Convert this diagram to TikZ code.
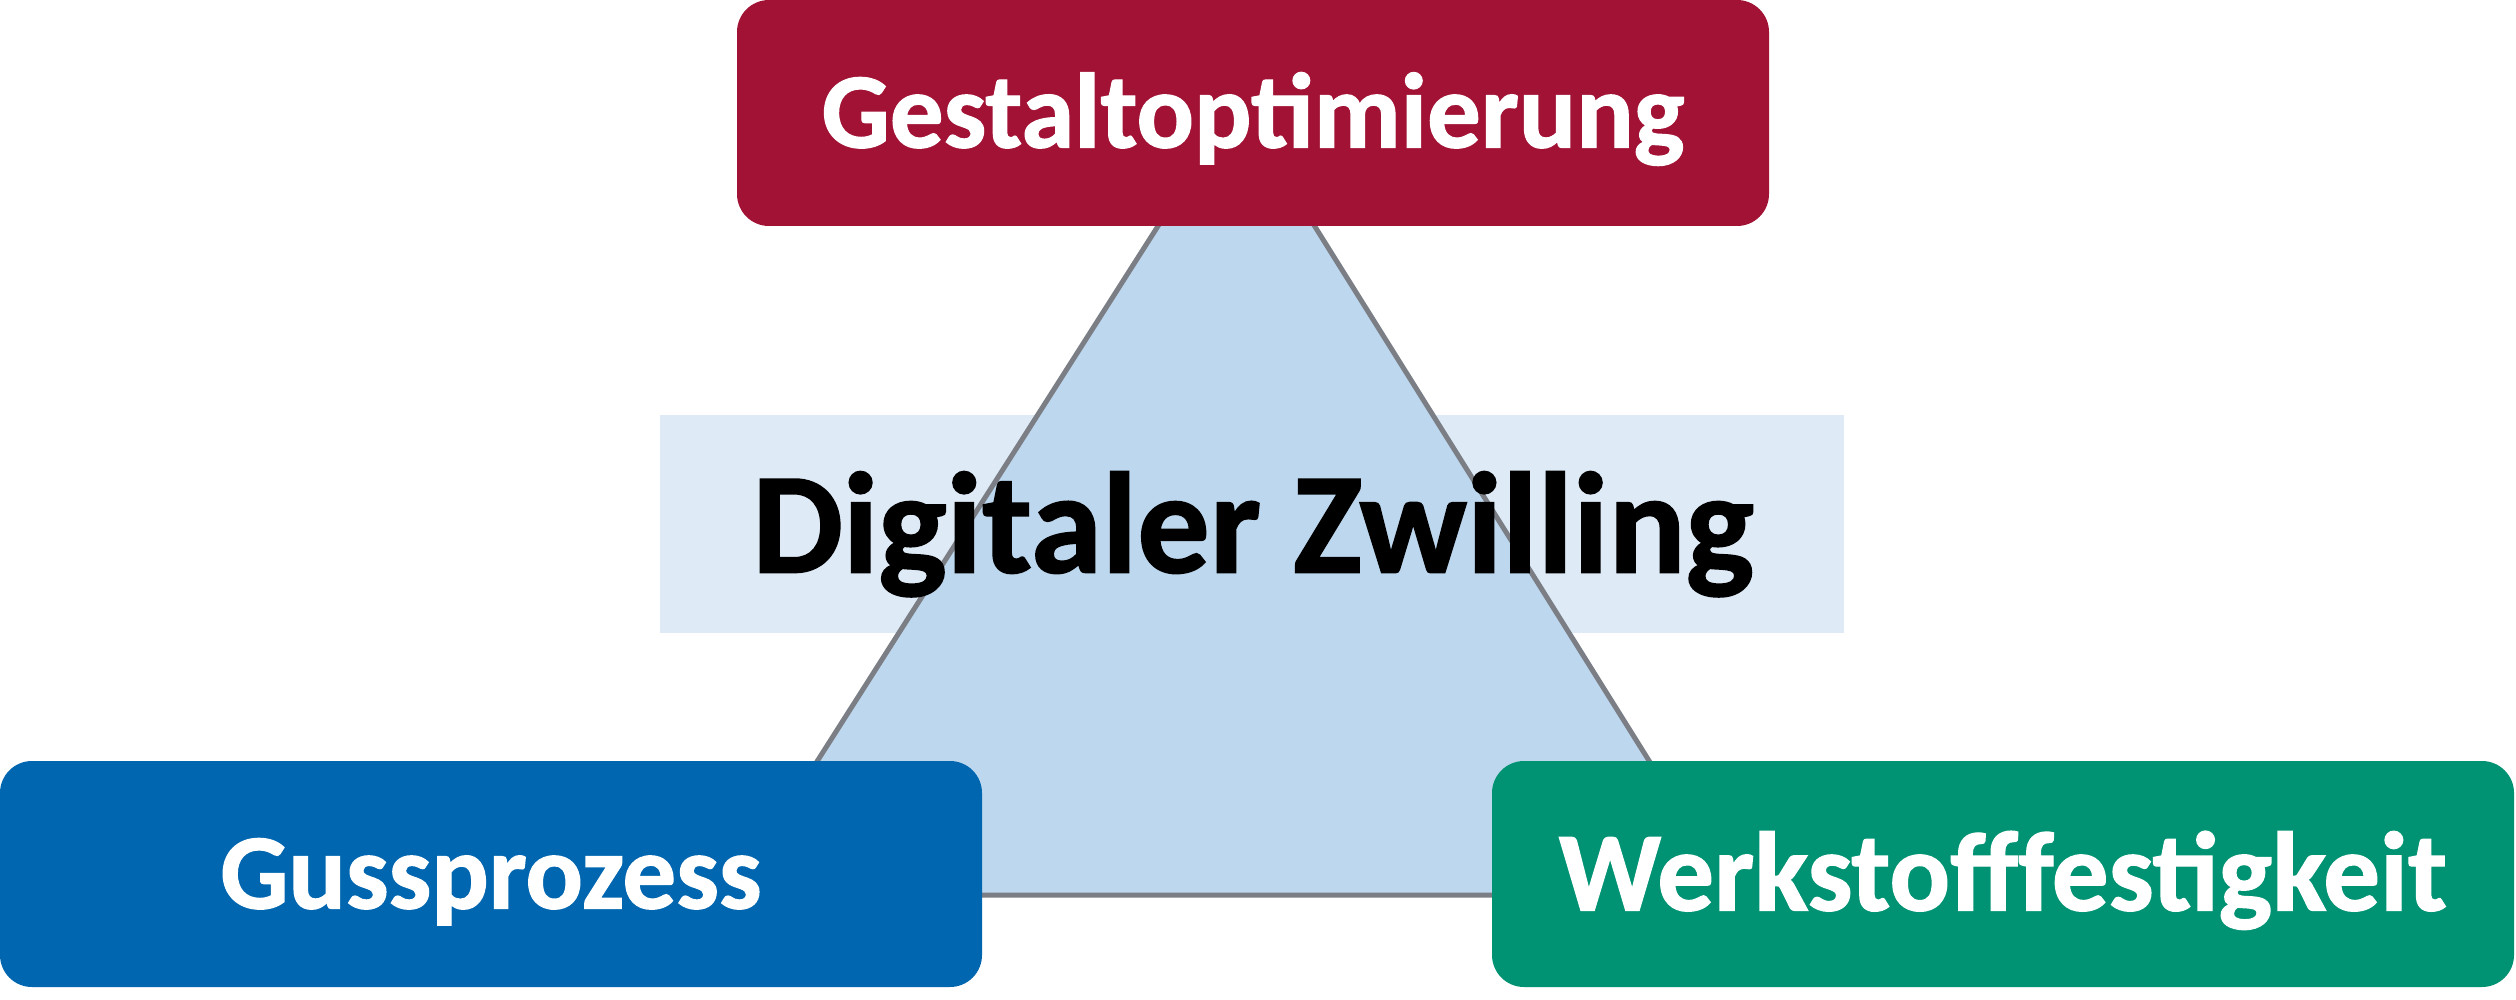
\documentclass[tikz,border=0pt]{standalone}
\usepackage{fontspec}
\setmainfont{Carlito}[BoldFeatures={FakeBold=1.2}]
\definecolor{crimsonc}{HTML}{A11235}
\definecolor{bluec}{HTML}{0066B0}
\definecolor{greenc}{HTML}{009373}
\definecolor{trifill}{HTML}{BDD7EE}
\definecolor{bandfill}{HTML}{DEEAF6}
\definecolor{edgegray}{HTML}{7B7F85}
\begin{document}
\begin{tikzpicture}[x=1pt,y=-1pt,
  catbox/.style={draw=none, rounded corners=32pt, inner sep=0pt, text=white,
    font=\fontsize{107}{128}\selectfont\bfseries, text height=69pt, text depth=0pt,
    minimum height=226pt},
  bandbox/.style={draw=none, fill=bandfill, inner sep=0pt},
  trishape/.style={fill=trifill, draw=edgegray, line width=5pt, line join=miter},
  titletext/.style={inner sep=0pt, text=black, font=\fontsize{144}{170}\selectfont\bfseries,
    text height=93pt, text depth=0pt}]
\useasboundingbox (0,0) rectangle (2516,1000);
\fill[white] (0,0) rectangle (2516,1000);
\node[bandbox, minimum width=1184pt, minimum height=218pt] (band) at (1252,524) {};
\coordinate (apex) at (1237,102);
\coordinate (bl) at (732,895);
\coordinate (br) at (1733,895);
\path[trishape] (apex) -- (bl) -- (br) -- cycle;
\node[titletext] (dz) at (1253,526) {Digitaler Zwilling};
\node[catbox, fill=crimsonc, minimum width=1032pt] (gest) at (1253,113) {Gestaltoptimierung};
\node[catbox, fill=bluec, minimum width=982pt] (guss) at (491,874) {Gussprozess};
\node[catbox, fill=greenc, minimum width=1022pt, font=\fontsize{113}{135}\selectfont\bfseries,
  text height=73pt] (werk) at (2003,874) {Werkstofffestigkeit};
\end{tikzpicture}
\end{document}
